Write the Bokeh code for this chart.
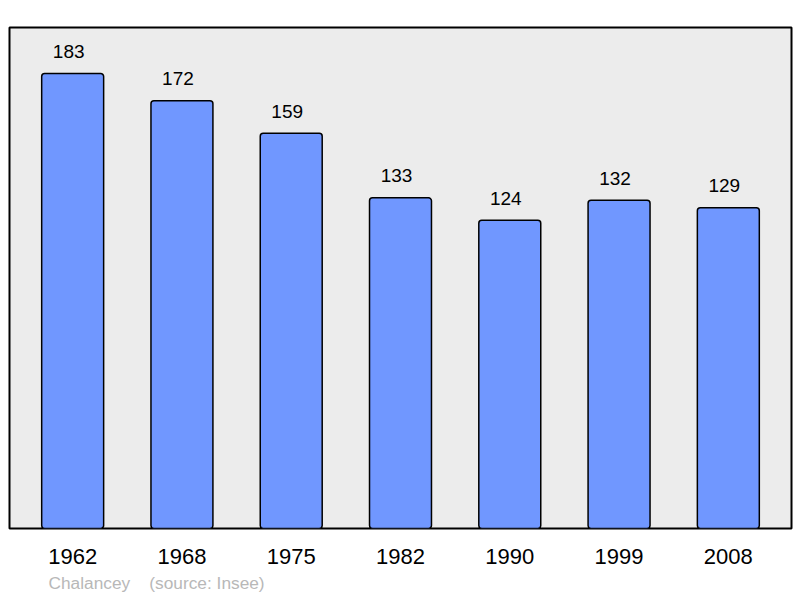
from bokeh.plotting import figure
from bokeh.models import ColumnDataSource, Range1d, Title, FactorRange
from bokeh.core.properties import value
from bokeh.embed import file_html
from bokeh.resources import INLINE

years = ["1962", "1968", "1975", "1982", "1990", "1999", "2008"]
population = [183, 172, 159, 133, 124, 132, 129]
labels = [str(v) for v in population]
commune = "Chalancey"
source_note = "(source: Insee)"

src = ColumnDataSource(data=dict(years=years, population=population, labels=labels))

p = figure(width=800, height=598, output_backend="svg", toolbar_location=None,
           x_range=FactorRange(*years, range_padding=0.078, range_padding_units="absolute"),
           y_range=Range1d(0, 201.5),
           min_border_left=9, min_border_right=9, min_border_top=27, min_border_bottom=70)

p.background_fill_color = "#ececec"
p.border_fill_color = "white"
p.outline_line_color = "black"
p.outline_line_width = 2
p.xgrid.visible = False
p.ygrid.visible = False
p.yaxis.visible = False

p.vbar(x="years", top="population", width=0.567, source=src,
       fill_color="#7097ff", line_color="black", line_width=1.5, border_radius=3)

p.text(x="years", y="population", text="labels", source=src,
       text_align="center", text_baseline="middle", x_offset=-4, y_offset=-22,
       text_font=value("Liberation Sans"), text_font_size="19px", text_color="black")

ax = p.xaxis[0]
ax.axis_line_color = None
ax.major_tick_line_color = None
ax.minor_tick_line_color = None
ax.major_label_text_font = "Liberation Sans"
ax.major_label_text_font_size = "22px"
ax.major_label_text_color = "black"
ax.major_label_standoff = 14

note = Title(text=commune + "\u00a0\u00a0\u00a0\u00a0" + source_note, align="left", offset=39,
             text_font="Liberation Sans", text_font_size="17.3px", text_color="#b8b8b8",
             text_font_style="normal", standoff=9)
p.add_layout(note, "below")

open("out.html", "w").write(file_html(p, INLINE))
